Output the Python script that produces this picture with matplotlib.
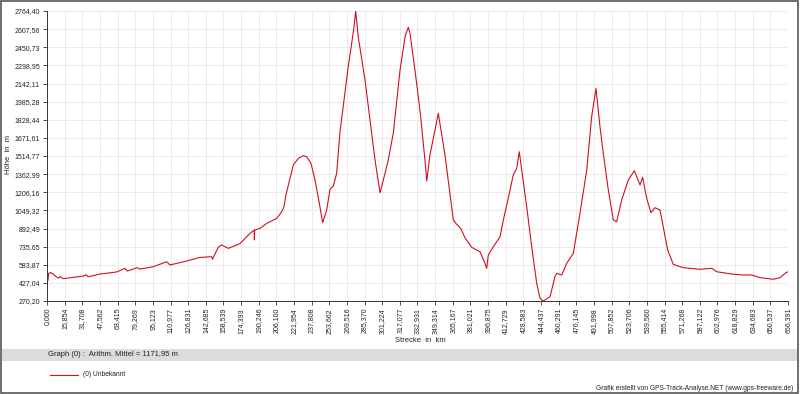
import numpy as np
import matplotlib
matplotlib.use('Agg')
import matplotlib.pyplot as plt
from matplotlib.patches import Rectangle

plt.rcParams['font.family'] = ['Liberation Sans', 'DejaVu Sans']

# elevation profile (km, m)
dist_km = [0.0, 0.8, 1.5, 3.3, 5.7, 8.1, 10.5, 11.7, 14.7, 32.6, 35.1, 37.1, 47.7,
           62.7, 70.1, 72.2, 81.2, 83.6, 95.6, 107.6, 110.6, 125.6, 137.6, 148.1,
           148.8, 154.0, 157.1, 163.0, 173.6, 182.6, 186.4, 186.5, 186.7, 191.6,
           197.6, 206.6, 211.1, 213.1, 214.9, 221.5, 226.0, 230.5, 233.5, 237.4,
           241.0, 244.9, 247.9, 251.5, 254.5, 257.5, 260.5, 263.5, 270.9, 274.0,
           276.1, 277.6, 279.9, 286.0, 295.0, 299.5, 304.0, 306.9, 311.4, 317.5,
           322.0, 324.9, 326.4, 330.9, 335.4, 339.9, 341.5, 344.4, 351.9, 357.9,
           365.4, 368.4, 372.0, 375.9, 381.9, 389.4, 393.9, 395.4, 396.9, 401.4,
           407.4, 410.4, 414.8, 419.3, 422.4, 424.7, 426.9, 431.4, 435.9, 440.4,
           443.4, 446.3, 452.4, 456.8, 458.4, 462.9, 467.4, 473.3, 479.3, 485.4,
           489.8, 493.7, 497.3, 500.3, 504.8, 509.3, 512.3, 516.8, 522.8, 528.2,
           533.3, 535.7, 539.3, 543.2, 546.8, 551.3, 554.2, 558.2, 563.2, 572.2,
           587.2, 597.8, 602.3, 617.2, 626.2, 633.7, 641.2, 653.2, 659.2, 663.7,
           666.4]
elev_m = [470, 445, 508, 514, 502, 479, 468, 479, 462, 485, 496, 479, 502,
          520, 551, 528, 557, 545, 565, 608, 580, 614, 645, 651,
          630, 732, 752, 723, 764, 852, 880, 795, 880, 895,
          938, 981, 1038, 1081, 1182, 1440, 1497, 1520, 1511, 1454,
          1311, 1110, 944, 1052, 1231, 1259, 1368, 1726, 2285, 2486,
          2629, 2764, 2543, 2170, 1483, 1201, 1368, 1483, 1712, 2257,
          2543, 2624, 2575, 2257, 1913, 1483, 1302, 1526, 1884, 1526,
          967, 930, 895, 815, 732, 694, 594, 551, 666, 737,
          823, 967, 1153, 1354, 1411, 1554, 1397, 1081, 737, 422,
          293, 270, 307, 479, 508, 494, 594, 680, 1024, 1397,
          1855, 2099, 1769, 1540, 1225, 967, 952, 1139, 1311, 1391,
          1268, 1334, 1153, 1030, 1073, 1052, 909, 708, 585, 557,
          543, 551, 522, 500, 494, 494, 471, 457, 471, 508,
          522]

y_labels = ['270,20', '427,04', '583,87', '735,65', '892,49', '1049,32', '1206,16',
            '1362,99', '1514,77', '1671,61', '1828,44', '1985,28', '2142,11',
            '2298,95', '2450,73', '2607,56', '2764,40']
x_labels = ['0,000', '15,854', '31,708', '47,562', '63,415', '79,269', '95,123',
            '110,977', '126,831', '142,685', '158,539', '174,393', '190,246',
            '206,100', '221,954', '237,808', '253,662', '269,516', '285,370',
            '301,224', '317,077', '332,931', '349,314', '365,167', '381,021',
            '396,875', '412,729', '428,583', '444,437', '460,291', '476,145',
            '491,998', '507,852', '523,706', '539,560', '555,414', '571,268',
            '587,122', '602,976', '618,829', '634,683', '650,537', '666,391']

y_min, y_max = 270.20, 2764.40
x_max = 666.391

fig = plt.figure(figsize=(8, 3.94), dpi=100)
ax = fig.add_axes([47/800, 1 - 301/394, 741/800, 290/394])

ax.plot(dist_km, elev_m, color='#d0101e', linewidth=0.8)

ax.set_xlim(0, x_max)
ax.set_ylim(y_min, y_max)
ax.set_yticks(np.linspace(y_min, y_max, len(y_labels)))
ax.set_yticklabels(y_labels)
ax.set_xticks(np.linspace(0, x_max, len(x_labels)))
ax.set_xticklabels(x_labels, rotation=90)
ax.tick_params(labelsize=5, length=3, width=0.6, color='#333333', pad=2, labelcolor='#222222')

ax.grid(True, color='#e8e8e8', linewidth=0.6)
ax.set_axisbelow(True)
for s in ['top', 'right']:
    ax.spines[s].set_visible(False)
for s in ['left', 'bottom']:
    ax.spines[s].set_linewidth(0.7)
    ax.spines[s].set_color('#333333')

fig.text(9/800, 1 - 155/394, 'Höhe  in  m', rotation=90, fontsize=5.5,
         ha='center', va='center', color='#222222')
fig.text(420/800, 1 - 341/394, 'Strecke  in  km', fontsize=5.5,
         ha='center', va='center', color='#222222')

# grey info band
fig.patches.append(Rectangle((2/800, 1 - 361/394), 795/800, 12/394,
                             transform=fig.transFigure, facecolor='#dcdcdc',
                             edgecolor='none', zorder=0))
fig.text(48/800, 1 - 355/394, 'Graph (0) :  Arithm. Mittel = 1171,95 m', fontsize=5.5,
         ha='left', va='center', color='#222222')

# legend
fig.lines.append(plt.Line2D([50/800, 78/800], [1 - 375/394, 1 - 375/394],
                            transform=fig.transFigure, color='#d0101e', linewidth=0.8))
fig.text(83/800, 1 - 375/394, '(0) Unbekannt', fontsize=4.8,
         ha='left', va='center', color='#222222')

fig.text(793/800, 1 - 388/394, 'Grafik erstellt von GPS-Track-Analyse.NET (www.gps-freeware.de)',
         fontsize=4.8, ha='right', va='center', color='#222222')

# outer frame
fig.patches.append(Rectangle((0.5/800, 1.5/394), 797/800, 392/394,
                             transform=fig.transFigure, facecolor='none',
                             edgecolor='#555555', linewidth=1.2))

fig.savefig('out.png', dpi=100)
